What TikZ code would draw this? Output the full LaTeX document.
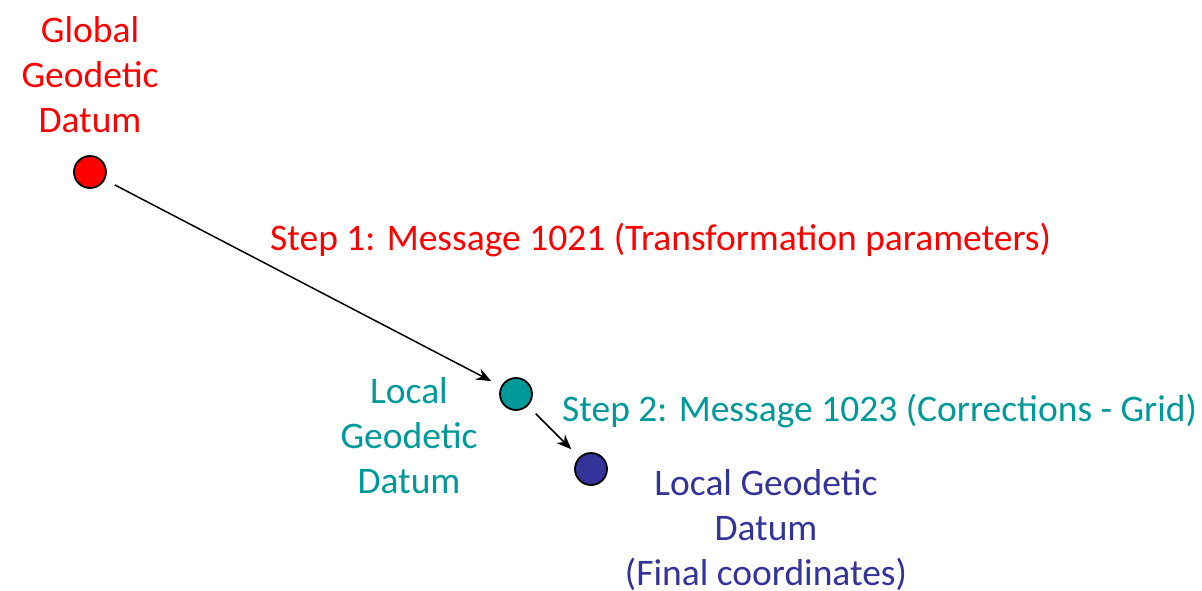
\documentclass[tikz,border=0pt]{standalone}
\usepackage{fontspec}
\setmainfont{Carlito}
\usetikzlibrary{arrows.meta}
\definecolor{gred}{HTML}{FF0000}
\definecolor{lteal}{HTML}{009999}
\definecolor{lnavy}{HTML}{333399}
\begin{document}
\begin{tikzpicture}[x=1pt,y=-1pt,
  datum/.style={circle,draw=black,line width=1.8pt,minimum size=32pt,inner sep=0pt},
  lbl/.style={font=\fontsize{37.5}{45}\selectfont,align=center,inner sep=0pt},
  link/.style={-{Stealth[length=15pt,width=12pt]},line width=1.5pt,shorten <=11pt,shorten >=11pt}]
\useasboundingbox (0,0) rectangle (1202,590);
% datum points
\node[datum,fill=gred] (g) at (90,172) {};
\node[datum,fill=lteal] (l) at (516,394) {};
\node[datum,fill=lnavy] (f) at (591,469) {};
% labels
\node[lbl,text=gred] (gt) at (90,75) {Global\\Geodetic\\Datum};
\node[lbl,text=gred,anchor=west] (s1) at (270,240) {Step 1: Message 1021 (Transformation parameters)};
\node[lbl,text=lteal] (lt) at (409,436) {Local\\Geodetic\\Datum};
\node[lbl,text=lteal,anchor=west] (s2) at (562,411) {Step 2: Message 1023 (Corrections - Grid)};
\node[lbl,text=lnavy] (ft) at (766,530) {Local Geodetic\\Datum\\(Final coordinates)};
% transformation steps
\draw[link] (g) -- (l);
\draw[link] (l) -- (f);
\end{tikzpicture}
\end{document}
